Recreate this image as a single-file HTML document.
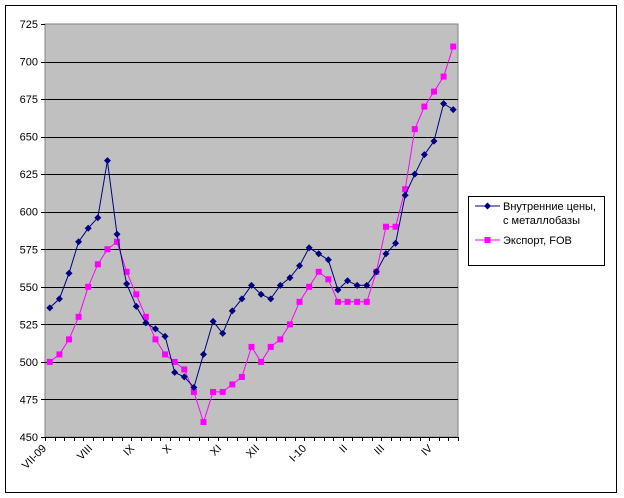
<!DOCTYPE html>
<html><head><meta charset="utf-8"><style>body{margin:0;background:#fff}svg{display:block;font-family:"Liberation Sans",Arial,sans-serif}</style></head><body>
<svg width="624" height="498" viewBox="0 0 624 498" xmlns="http://www.w3.org/2000/svg">
<rect x="5.5" y="5.5" width="611" height="487" fill="#fff" stroke="#000" stroke-width="1"/>
<rect x="45" y="24" width="413" height="413" fill="#c0c0c0" stroke="#808080"/>
<g id="grid" stroke="#000" stroke-width="1"></g>
<g id="ylab" font-size="11" fill="#000" text-anchor="end"></g>
<g id="ticks" stroke="#000"></g>
<g id="xlab" font-size="11" fill="#000" text-anchor="end"></g>
<polyline id="pink" fill="none" stroke="#ff00ff" stroke-width="1"/>
<g id="pinkm" fill="#ff00ff"></g>
<polyline id="blue" fill="none" stroke="#000080" stroke-width="1"/>
<g id="bluem" fill="#000080"></g>
<rect x="468.5" y="196.5" width="136" height="69" fill="#fff" stroke="#000"/>
<line x1="475" y1="206" x2="500" y2="206" stroke="#000080"/>
<path d="M487.5 202.5 L491 206 L487.5 209.5 L484 206Z" fill="#000080"/>
<text x="503" y="210" font-size="11">Внутренние цены,</text>
<text x="503" y="224" font-size="11">с металлобазы</text>
<line x1="475" y1="240" x2="500" y2="240" stroke="#ff00ff"/>
<rect x="484.5" y="237" width="6" height="6" fill="#ff00ff"/>
<text x="503" y="244" font-size="11">Экспорт, FOB</text>
<script>
var ns="http://www.w3.org/2000/svg";
function Y(v){return 437-(v-450)*413/275;}
var g=document.getElementById('grid'),yl=document.getElementById('ylab');
for(var v=450;v<=725;v+=25){var y=Y(v);
 if(v>450&&v<725){var l=document.createElementNS(ns,'line');l.setAttribute('x1',45);l.setAttribute('x2',458);l.setAttribute('y1',Math.round(y)+.5);l.setAttribute('y2',Math.round(y)+.5);g.appendChild(l);}
 var t=document.createElementNS(ns,'line');t.setAttribute('x1',41);t.setAttribute('x2',45);t.setAttribute('y1',Math.round(y)+.5);t.setAttribute('y2',Math.round(y)+.5);t.setAttribute('stroke','#000');g.appendChild(t);
 var tx=document.createElementNS(ns,'text');tx.setAttribute('x',38);tx.setAttribute('y',y+4);tx.textContent=v;yl.appendChild(tx);}
var tk=document.getElementById('ticks');var n=43,w=413/n;
var ax=document.createElementNS(ns,'line');ax.setAttribute('x1',45);ax.setAttribute('x2',458);ax.setAttribute('y1',437.5);ax.setAttribute('y2',437.5);tk.appendChild(ax);
for(var i=0;i<=n;i++){var x=Math.round(45+i*w)+.5;var l=document.createElementNS(ns,'line');l.setAttribute('x1',x);l.setAttribute('x2',x);l.setAttribute('y1',437);l.setAttribute('y2',441);tk.appendChild(l);}
var labs=[["VII-09",47],["VIII",93],["IX",135],["X",172],["XI",222],["XII",260],["I-10",307],["II",348],["III",385],["IV",433]];
var xl=document.getElementById('xlab');
labs.forEach(function(a){var t=document.createElementNS(ns,'text');t.setAttribute('transform','translate('+a[1]+',449) rotate(-45)');t.textContent=a[0];xl.appendChild(t);});
var P=[500,505,515,530,550,565,575,580,560,545,530,515,505,500,495,480,460,480,480,485,490,510,500,510,515,525,540,550,560,555,540,540,540,540,560,590,590,615,655,670,680,690,710];
var B=[536,542,559,580,589,596,634,585,552,537,526,522,517,493,490,483,505,527,519,534,542,551,545,542,551,556,564,576,572,568,548,554,551,551,560,572,579,611,625,638,647,672,668];
function X(i){return 45+w*(i+0.5);}
function draw(d,id,mk){var pts=d.map(function(v,i){return X(i).toFixed(1)+','+Y(v).toFixed(1)}).join(' ');
document.getElementById(id).setAttribute('points',pts);var m=document.getElementById(id+'m');
d.forEach(function(v,i){var x=X(i),y=Y(v),e;if(mk=='sq'){e=document.createElementNS(ns,'rect');e.setAttribute('x',x-3);e.setAttribute('y',y-3);e.setAttribute('width',6);e.setAttribute('height',6);}else{e=document.createElementNS(ns,'path');e.setAttribute('d','M'+x+' '+(y-3.5)+'L'+(x+3.5)+' '+y+'L'+x+' '+(y+3.5)+'L'+(x-3.5)+' '+y+'Z');}m.appendChild(e);});}
draw(P,'pink','sq');draw(B,'blue','d');
</script>
</svg>
</body></html>
